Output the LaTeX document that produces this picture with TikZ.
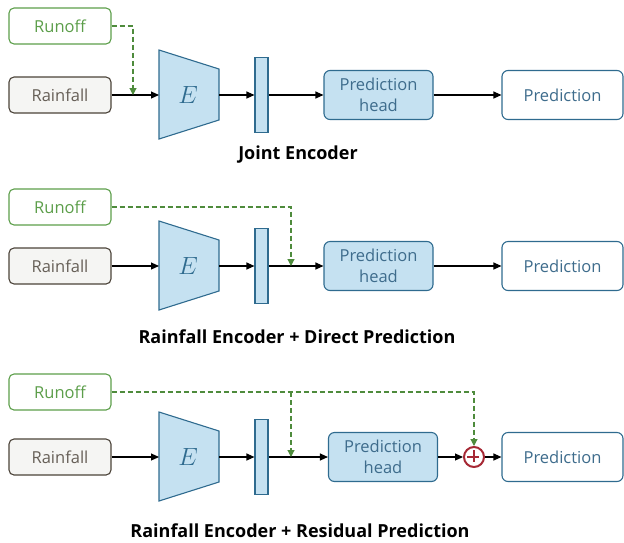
\documentclass[tikz,border=0pt]{standalone}
\usepackage{fontspec}
\setmainfont{Open Sans}
\usetikzlibrary{arrows.meta}

\definecolor{encfill}{HTML}{C5E1F1}
\definecolor{encline}{HTML}{2F6B8F}
\definecolor{enctext}{HTML}{3E6C8C}
\definecolor{rungreen}{HTML}{5C9E4A}
\definecolor{rundash}{HTML}{4E8B3C}
\definecolor{rainline}{HTML}{4B4339}
\definecolor{rainfill}{HTML}{F5F5F3}
\definecolor{plusred}{HTML}{A62935}

\tikzset{
  inbox/.style={draw, rounded corners=5pt, line width=1.1pt, minimum width=102pt,
    minimum height=36pt, inner sep=0pt, font=\fontsize{16.5}{16.5}\selectfont},
  runbox/.style={inbox, draw=rungreen, text=rungreen},
  rainbox/.style={inbox, draw=rainline, fill=rainfill, text=rainline!85},
  headbox/.style={draw=encline, fill=encfill, text=enctext, rounded corners=6pt,
    line width=1.1pt, minimum width=109pt, minimum height=49pt, inner sep=0pt,
    align=center, font=\fontsize{16.5}{21}\selectfont},
  predbox/.style={headbox, fill=white, minimum width=121pt},
  barbox/.style={draw=encline, fill=encfill, line width=1.1pt, minimum width=13pt,
    minimum height=75pt, inner sep=0pt},
  flow/.style={-{Triangle[length=8pt,width=7pt]}, line width=1.1pt},
  skip/.style={draw=rundash, dash pattern=on 5pt off 3pt, line width=1.1pt,
    -{Triangle[length=7pt,width=7pt,fill=rundash,sharp]}},
  paneltitle/.style={font=\bfseries\fontsize{18}{18}\selectfont},
}

\begin{document}
\begin{tikzpicture}[x=1pt,y=1pt,yscale=-1]
\useasboundingbox (0,0) rectangle (624,542);

% the three rows share the same chain
\foreach \i/\ry/\my/\hx in {1/26/95/378.5, 2/207/266/378.5, 3/392/457/383}{
  \node[runbox] (run\i) at (60,\ry) {Runoff};
  \node[rainbox] (rain\i) at (60,\my) {Rainfall};
  %Shape: encoder trapezoid
  \draw[encline, fill=encfill, line width=1.1pt]
    (159,\my-45) -- (219,\my-26) -- (219,\my+25) -- (159,\my+44) -- cycle;
  \coordinate (encw\i) at (159,\my);
  \coordinate (ence\i) at (219,\my);
  \node[text=encline, font=\fontsize{28}{28}\selectfont] (enc\i) at (188,\my) {$E$};
  \node[barbox] (bar\i) at (261.5,\my) {};
  \node[headbox] (head\i) at (\hx,\my) {Prediction\\head};
  \node[predbox] (pred\i) at (562.5,\my) {Prediction};
  \draw[flow] (rain\i) -- (encw\i);
  \draw[flow] (ence\i) -- (bar\i);
  \draw[flow] (bar\i) -- (head\i);
}

% Joint Encoder
\coordinate (join1) at (133,95);
\draw[skip] (run1.east) -| (join1);
\draw[flow] (head1) -- (pred1);

% Direct Prediction
\coordinate (join2) at (291,266);
\draw[skip] (run2.east) -| (join2);
\draw[flow] (head2) -- (pred2);

% Residual Prediction
\coordinate (join3) at (291,457);
\node[circle, draw=plusred, line width=2pt, minimum size=20pt, inner sep=0pt] (plus3) at (474,457) {};
\draw[plusred, line width=2pt] (plus3.north) ++(0,4) -- ++(0,12) (plus3.west) ++(4,0) -- ++(12,0);
\draw[skip] (run3.east) -| (plus3.north);
\draw[skip] (291,392) -- (join3);
\draw[flow] (head3) -- (plus3);
\draw[flow] (plus3) -- (pred3);

% Text Node
\node[paneltitle] (title1) at (298,155) {Joint Encoder};
\node[paneltitle] (title2) at (297,337) {Rainfall Encoder + Direct Prediction};
\node[paneltitle] (title3) at (300,531) {Rainfall Encoder + Residual Prediction};
\end{tikzpicture}
\end{document}
